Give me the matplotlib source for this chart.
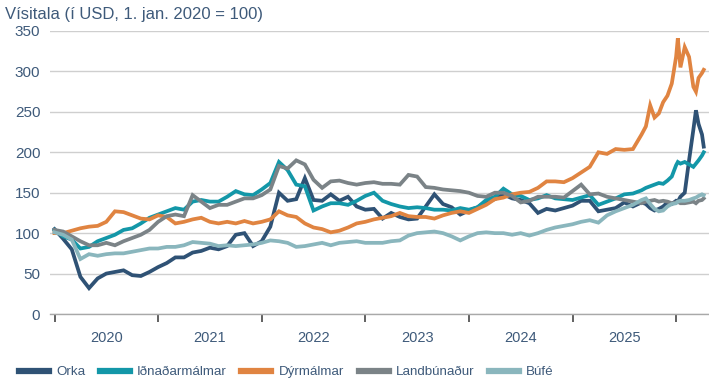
import matplotlib
matplotlib.use("Agg")
import matplotlib.pyplot as plt
import numpy as np

# months since 1 Jan 2020 (monthly, then twice a month at the end)
months = list(range(68)) + [68, 68.5, 69, 69.5, 70, 70.5, 71, 71.5, 72, 72.2,
                            72.5, 73, 73.5, 74, 74.3, 74.6, 75, 75.2]

orka = [105, 93, 80, 46, 32, 44, 50, 52, 54, 48, 47, 52,
        58, 63, 70, 70, 76, 78, 82, 80, 84, 98, 100, 84,
        90, 108, 150, 140, 142, 168, 141, 140, 148, 140, 145, 133,
        129, 130, 118, 125, 120, 117, 118, 133, 148, 136, 132, 123,
        128, 132, 139, 142, 148, 143, 141, 137, 125, 130, 128, 131,
        134, 140, 140, 127, 129, 131, 138, 133,
        138, 136, 131, 128, 130, 133, 138, 136, 140, 139, 145, 150, 190, 228, 252, 235, 222, 207]

idnadarmalmar = [104, 96, 92, 81, 83, 90, 94, 98, 104, 106, 112, 119,
                 123, 127, 131, 129, 139, 141, 139, 139, 145, 152, 148, 147,
                 154, 162, 188, 178, 160, 158, 128, 133, 137, 137, 135, 140,
                 146, 150, 140, 136, 133, 131, 132, 131, 129, 129, 128, 131,
                 129, 132, 141, 145, 155, 148, 146, 141, 143, 147, 143, 142,
                 141, 144, 147, 135, 139, 143, 148, 149,
                 153, 156, 158, 160, 162, 161, 165, 170, 184, 188, 186, 188, 185, 182, 186, 190, 196, 200]

dyrmalmar = [100, 100, 103, 106, 108, 109, 114, 127, 126, 122, 118, 117,
             122, 120, 112, 114, 117, 119, 114, 112, 114, 112, 115, 112,
             114, 117, 127, 122, 120, 112, 107, 105, 101, 103, 107, 112,
             114, 117, 119, 121, 125, 121, 120, 120, 118, 122, 125, 127,
             125, 130, 135, 142, 144, 148, 150, 151, 156, 164, 164, 163,
             168, 175, 182, 200, 198, 204, 203, 204,
             222, 232, 258, 243, 248, 262, 270, 285, 318, 341, 305, 330, 318, 281, 275, 292, 298, 302]

landbunadur = [104, 102, 96, 90, 85, 85, 88, 85, 90, 94, 98, 104,
               114, 121, 123, 121, 147, 139, 131, 135, 135, 139, 143, 143,
               147, 154, 183, 180, 190, 185, 166, 156, 164, 165, 162, 160,
               162, 163, 161, 161, 160, 172, 170, 157, 156, 154, 153, 152,
               150, 146, 145, 150, 150, 146, 138, 140, 145, 145, 145, 144,
               152, 160, 148, 149, 145, 143, 141, 139,
               137, 139, 140, 141, 139, 140, 139, 137, 138, 139, 137, 137, 138, 139, 137, 140, 141, 143]

bufe = [101, 98, 92, 68, 74, 72, 74, 75, 75, 77, 79, 81,
        81, 83, 83, 85, 89, 88, 87, 84, 85, 84, 85, 86,
        88, 91, 90, 88, 83, 84, 86, 88, 85, 88, 89, 90,
        88, 88, 88, 90, 91, 97, 100, 101, 102, 100, 96, 91,
        96, 100, 101, 100, 100, 98, 100, 97, 100, 104, 107, 109,
        111, 114, 116, 113, 122, 127, 131, 135,
        141, 143, 136, 130, 127, 128, 133, 136, 137, 139, 140, 140, 141, 143, 144, 146, 148, 147]

labels = ["Orka", "Iðnaðarmálmar", "Dýrmálmar", "Landbúnaður", "Búfé"]
colors = ["#2f5275", "#1397a8", "#e08441", "#7b8387", "#8ab6bd"]
years = [2020, 2021, 2022, 2023, 2024, 2025]

txt = "#3e5a7a"
plt.rcParams["font.family"] = ["Liberation Sans", "DejaVu Sans"]
plt.rcParams["font.size"] = 10.5

fig = plt.figure(figsize=(7.09, 3.84), dpi=100)
ax = fig.add_axes([50 / 709, 70 / 384, 659 / 709, 283 / 384])

x = 2020 + np.array(months) / 12.0
for vals, lab, col in zip([orka, idnadarmalmar, dyrmalmar, landbunadur, bufe], labels, colors):
    ax.plot(x, vals, color=col, lw=2.7, label=lab, solid_joinstyle="miter")

ax.set_xlim(2020 - 4.5 / 103.6, 2020 + 654.5 / 103.6)
ax.set_ylim(0, 350)
ax.set_yticks(range(0, 351, 50))
ax.grid(axis="y", color="#cfcfcf", lw=1)
ax.set_axisbelow(True)

# year boundaries as tick marks, year names centred between them
ax.set_xticks(list(years) + [2026])
ax.set_xticklabels([])
ax.set_xticks([y + 0.5 for y in years], minor=True)
ax.set_xticklabels([str(y) for y in years], minor=True, color=txt)
ax.tick_params(axis="x", which="major", length=6, width=1.3, color="#555555", direction="out")
ax.tick_params(axis="x", which="minor", length=0, pad=12)
ax.tick_params(axis="y", length=0, pad=7, labelcolor=txt, labelsize=11)

for s in ["top", "right", "left"]:
    ax.spines[s].set_visible(False)
ax.spines["bottom"].set_color("#a9a9a9")
ax.spines["bottom"].set_linewidth(1)

fig.text(5 / 709, 1 - 14 / 384, "Vísitala (í USD, 1. jan. 2020 = 100)", color=txt,
         va="center", ha="left", fontsize=12)

leg = fig.legend(loc="center left", bbox_to_anchor=(19 / 709, 12 / 384), ncol=5,
                 frameon=False, handlelength=2.25, handletextpad=0.53,
                 columnspacing=1.1, borderaxespad=0, borderpad=0,
                 prop={"size": 9.6})
for h in leg.get_lines():
    h.set_linewidth(4.5)
for t in leg.get_texts():
    t.set_color(txt)

fig.savefig("out.png", dpi=100)
